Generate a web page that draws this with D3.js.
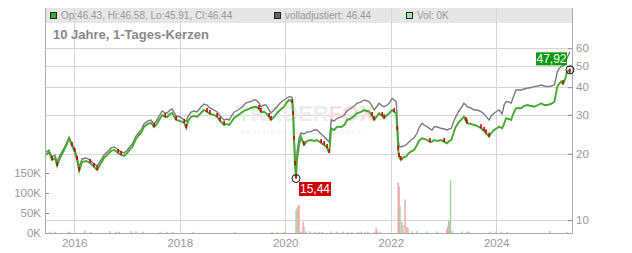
<!DOCTYPE html>
<html>
<head>
<meta charset="utf-8">
<script src="https://cdn.jsdelivr.net/npm/d3@7"></script>
<style>
  body { margin: 0; background: #fff; }
  svg { display: block; font-family: "Liberation Sans", Arial, sans-serif; }
</style>
</head>
<body>
<div id="chart"></div>
<script>
// Price data (close = green candles, adjusted = gray line)
const dates = [
  "2015-06-20","2015-07-10","2015-08-01","2015-08-21","2015-09-05","2015-09-25","2015-10-16","2015-11-06","2015-11-27","2015-12-17",
  "2016-01-04","2016-01-21","2016-02-05","2016-02-25","2016-03-23","2016-04-20","2016-05-17","2016-06-08","2016-07-05","2016-07-25","2016-08-16","2016-09-13","2016-10-04","2016-11-01","2016-11-21","2016-12-12",
  "2017-01-03","2017-01-23","2017-02-07","2017-03-04","2017-03-25","2017-04-08","2017-04-28","2017-05-26","2017-06-16","2017-07-07","2017-07-27","2017-08-11","2017-09-01","2017-09-22","2017-10-05","2017-10-26","2017-11-09","2017-12-07",
  "2018-01-04","2018-02-01","2018-02-15","2018-02-28","2018-03-20","2018-04-10","2018-04-30","2018-05-28","2018-06-18","2018-07-09","2018-07-29","2018-08-26","2018-09-17","2018-10-07","2018-11-04","2018-11-25","2018-12-09","2018-12-29",
  "2019-01-13","2019-02-10","2019-03-01","2019-03-21","2019-04-05","2019-04-25","2019-05-09","2019-05-29","2019-06-13","2019-07-04","2019-07-17","2019-08-07","2019-08-21","2019-09-12","2019-09-25","2019-10-16","2019-11-06","2019-11-27","2019-12-24",
  "2020-01-14","2020-01-28","2020-02-12","2020-02-19","2020-02-25","2020-03-02","2020-03-09","2020-03-16","2020-03-23","2020-04-06","2020-04-20","2020-05-10","2020-06-01","2020-06-28","2020-07-19","2020-08-09","2020-09-06","2020-09-27","2020-10-17","2020-11-01","2020-11-15","2020-12-05","2020-12-26",
  "2021-01-23","2021-02-13","2021-03-04","2021-04-01","2021-04-22","2021-05-12","2021-06-10","2021-06-30","2021-07-21","2021-08-04","2021-08-25","2021-09-08","2021-09-29","2021-10-12","2021-11-03","2021-11-16","2021-12-07","2021-12-21",
  "2022-01-11","2022-01-25","2022-02-08","2022-02-15","2022-02-22","2022-02-28","2022-03-12","2022-04-03","2022-04-17","2022-05-07","2022-05-21","2022-06-11","2022-07-02","2022-07-15","2022-08-06","2022-08-20","2022-09-10","2022-09-30","2022-10-14","2022-10-28","2022-11-18","2022-12-16",
  "2023-01-06","2023-01-27","2023-02-10","2023-02-24","2023-03-14","2023-03-28","2023-04-18","2023-05-02","2023-05-22","2023-06-06","2023-06-13","2023-07-10","2023-08-01","2023-08-21","2023-09-18","2023-10-09","2023-10-23","2023-11-13","2023-11-27","2023-12-17",
  "2024-01-08","2024-01-21","2024-02-11","2024-02-25","2024-03-09","2024-03-30","2024-04-13","2024-05-04","2024-05-17","2024-06-08","2024-06-21","2024-07-12","2024-08-02","2024-08-30","2024-09-20","2024-10-17","2024-11-08","2024-11-28","2024-12-19",
  "2025-01-16","2025-02-07","2025-02-20","2025-02-27","2025-03-11","2025-03-25","2025-04-08","2025-04-15","2025-04-29","2025-05-05","2025-05-19","2025-05-26"
];
const closes = [
  19.73,20.36,18.73,19.13,17.60,19.13,20.36,21.68,23.44,21.68,
  20.42,18.73,16.71,18.35,18.54,18.16,17.42,16.88,18.16,19.13,19.73,20.58,20.79,20.15,19.73,19.53,
  20.15,21.01,21.46,23.32,24.30,24.82,26.42,27.26,27.55,26.42,27.26,28.41,29.93,29.32,29.32,30.25,30.57,28.41,
  28.12,27.55,26.15,28.12,29.32,29.63,29.32,30.57,31.53,30.89,30.25,29.93,29.32,28.12,26.97,27.26,26.97,28.12,
  29.02,29.93,30.57,31.21,31.53,31.87,32.20,32.54,32.64,31.87,30.89,30.89,30.57,29.32,28.41,29.32,30.57,31.53,32.64,
  34.29,35.00,34.64,33.93,29.93,23.07,17.78,15.44,18.73,21.90,23.81,21.90,22.84,23.07,22.84,23.07,22.37,21.90,21.23,20.15,26.06,25.60,26.51,
  26.42,26.97,28.41,28.92,29.63,30.48,30.89,31.53,31.21,30.99,29.63,28.41,29.63,30.48,29.63,28.92,29.93,30.48,
  31.53,30.89,30.48,25.60,20.79,19.33,18.73,19.33,19.39,20.15,20.42,20.79,21.90,22.84,23.48,23.32,23.07,22.60,22.67,23.07,22.84,23.07,
  22.60,22.30,22.84,23.07,25.08,26.51,27.83,28.41,29.42,28.12,27.47,27.26,26.97,26.70,26.06,25.34,24.74,23.88,24.82,25.60,
  26.15,26.51,26.06,27.26,28.92,28.71,28.41,30.89,32.10,32.20,32.10,32.88,33.22,32.88,32.64,33.22,33.82,33.22,33.22,
  33.58,34.40,38.05,40.22,41.36,42.40,41.36,42.23,44.95,47.00,47.84,46.44
];
const adjusted = [
  20.36,20.79,19.33,19.73,18.35,19.73,20.79,22.13,23.68,22.13,
  21.01,19.33,17.42,18.93,19.13,18.73,17.97,17.60,18.73,19.73,20.36,21.23,21.46,20.79,20.36,20.15,
  20.79,21.68,22.13,24.05,25.08,25.60,27.26,28.12,28.41,27.26,28.41,29.63,31.21,30.57,30.57,31.53,31.87,29.63,
  29.32,28.41,28.00,29.63,30.89,31.21,30.89,32.54,33.58,33.22,32.20,31.53,30.89,29.63,28.41,28.71,28.41,29.93,
  30.89,31.53,32.20,33.22,33.93,34.29,34.40,35.00,35.00,33.93,32.64,33.22,33.22,31.53,30.57,31.53,32.64,33.93,35.00,
  35.75,36.24,36.12,35.75,32.20,25.60,19.73,17.24,20.36,23.56,24.82,24.56,25.08,25.16,25.60,25.60,24.56,23.88,23.07,22.60,28.41,28.12,28.92,
  29.32,29.93,31.21,32.10,32.88,33.82,34.29,35.00,34.64,34.40,32.88,31.53,32.88,33.82,32.88,32.64,33.22,33.82,
  35.64,35.00,34.40,28.41,23.07,21.51,21.51,21.68,21.90,22.60,23.07,23.56,24.74,26.15,27.47,26.97,26.51,25.87,25.60,26.51,26.42,26.06,
  25.87,25.60,25.87,26.06,28.12,29.42,31.21,32.10,33.82,33.22,32.64,32.20,31.53,31.53,30.99,30.25,29.42,28.41,29.63,30.48,
  31.21,31.53,30.25,33.22,34.40,34.29,33.82,36.87,38.84,38.84,38.84,39.26,39.55,39.88,40.22,40.50,40.92,40.50,40.22,
  40.50,40.92,44.49,47.00,48.35,49.55,49.89,50.40,52.55,54.20,56.50,57.90
];

// Volume (shares), mostly tiny, a few spikes
const volDates = [
  "2015-07-17","2015-08-21","2015-11-20","2015-12-04","2016-03-16","2016-04-27","2016-09-07","2016-10-17","2016-11-08",
  "2017-01-30","2017-03-04","2017-04-22","2017-08-18","2017-10-05","2017-11-16","2018-04-03","2019-01-20","2019-10-02","2019-11-06","2019-12-24",
  "2020-03-16","2020-03-23","2020-03-30","2020-04-06","2020-04-20","2020-05-04","2020-05-10","2020-05-24","2020-06-21","2020-07-25","2020-08-23","2020-09-13","2020-11-15","2020-12-26",
  "2021-02-06","2021-03-10","2021-04-08","2021-05-19","2021-06-10","2021-07-07","2021-07-27","2021-09-08","2021-09-22","2021-09-29","2021-10-19",
  "2022-02-22","2022-02-28","2022-03-06","2022-03-19","2022-03-26","2022-04-10","2022-04-23","2022-04-30","2022-05-28","2022-07-02","2022-09-10","2022-11-18",
  "2023-01-23","2023-01-30","2023-02-06","2023-02-12","2023-02-19","2023-03-01","2023-05-09","2023-06-13","2023-06-27","2023-11-20",
  "2024-01-01","2024-02-05","2024-03-16","2025-01-09","2025-05-05"
];
const volValues = [
  3000,3000,3000,3000,6000,3000,5000,3000,3000,
  5000,4000,3000,3000,3000,3000,3000,3000,3000,3000,3000,
  57000,62000,67000,70000,4000,28000,16000,4000,4000,3000,3000,3000,4000,4000,
  3000,3000,3000,3000,4000,3000,3000,3000,13000,4000,3000,
  126000,116000,67000,28000,20000,84000,16000,12000,4000,5000,4000,4000,
  7000,16000,32000,28000,132000,5000,4000,4000,3000,4000,
  4000,3000,3000,5000,3000
];
const volUp = [
  0,0,1,1,0,0,1,0,0,
  1,1,0,1,1,0,1,1,0,1,1,
  1,1,0,0,0,0,0,1,1,1,0,0,1,1,
  0,1,1,0,1,1,0,1,0,0,1,
  0,0,1,0,1,0,0,0,1,1,1,0,
  0,0,1,0,1,1,1,1,0,1,
  1,0,1,0,1
];

const yearTicks = ["2016-01-01","2018-01-01","2020-01-01","2022-01-01","2024-01-01"];
const priceTicks = [10, 20, 30, 40, 50, 60];
const volTicks = [0, 50000, 100000, 150000];
const lowMark = { date: "2020-03-16", value: 15.44, label: "15,44" };
const highMark = { date: "2025-05-26", value: 47.92, label: "47,92" };
const headerItems = [
  { text: "Op:46.43, Hi:46.58, Lo:45.91, Cl:46.44", fill: "#33aa33" },
  { text: "volladjustiert: 46.44", fill: "#666666" },
  { text: "Vol: 0K", fill: "#b3e0b3" }
];

const parse = d3.timeParse("%Y-%m-%d");
const W = 632, H = 253;
const L = 45, R = 572, T = 8, B = 233;

const svg = d3.select("#chart").append("svg").attr("width", W).attr("height", H);

// Scales
const x = d3.scaleTime().domain([parse("2015-06-13"), parse("2025-06-09")]).range([L, R]);
const y = d3.scaleLog().domain([8.75, 91.3]).range([B, T]);
const yVol = d3.scaleLinear().domain([0, 150000]).range([B, 173]);

// Header band
svg.append("rect").attr("x", L).attr("y", T).attr("width", R - L).attr("height", 15)
   .attr("fill", "#e6e6e6");

// Grid lines
svg.append("g").selectAll("line").data(yearTicks).enter().append("line")
   .attr("x1", d => Math.round(x(parse(d))) + 0.5).attr("x2", d => Math.round(x(parse(d))) + 0.5)
   .attr("y1", T).attr("y2", B)
   .attr("stroke", "#d6d6d6");
svg.append("g").selectAll("line").data(priceTicks).enter().append("line")
   .attr("x1", L).attr("x2", R)
   .attr("y1", d => Math.round(y(d)) + 0.5).attr("y2", d => Math.round(y(d)) + 0.5)
   .attr("stroke", "#d6d6d6");

// Watermark
const wm = svg.append("text").attr("x", 237).attr("y", 121)
   .style("font-size", "22px").style("font-weight", "bold");
wm.append("tspan").attr("fill", "#ececec").text("TRADER");
wm.append("tspan").attr("fill", "#f8dede").text("FOX");
svg.append("text").attr("x", 241).attr("y", 134).attr("fill", "#efefef")
   .style("font-size", "6px").style("letter-spacing", "1.5px").text("REALTIME STOCK SCREENER");

// Header legend
const hx = [50, 274, 406];
headerItems.forEach(function (item, i) {
    svg.append("rect").attr("x", hx[i] + 0.5).attr("y", 12.5).attr("width", 6).attr("height", 6)
       .attr("fill", item.fill).attr("stroke", "#222");
    svg.append("text").attr("x", hx[i] + 11).attr("y", 19.3).attr("fill", "#999")
       .style("font-size", "10px").text(item.text);
});

// Title
svg.append("text").attr("x", 53).attr("y", 38.5).attr("fill", "#888")
   .style("font-size", "13px").style("font-weight", "bold").text("10 Jahre, 1-Tages-Kerzen");

// Volume bars
svg.append("g").selectAll("rect").data(volDates).enter().append("rect")
   .attr("x", d => x(parse(d)) - 0.7)
   .attr("width", 1.4)
   .attr("y", (d, i) => yVol(volValues[i]))
   .attr("height", (d, i) => B - yVol(volValues[i]))
   .attr("fill", (d, i) => volUp[i] ? "#9fd89f" : "#f0a3a8");

// Price series
const pts = dates.map((d, i) => ({ date: parse(d), close: closes[i], adj: adjusted[i] }));

svg.append("path").datum(pts)
   .attr("fill", "none").attr("stroke", "#7a7a7a").attr("stroke-width", 1.4)
   .attr("d", d3.line().x(d => x(d.date)).y(d => y(d.adj)));

svg.append("path").datum(pts)
   .attr("fill", "none").attr("stroke", "#44aa2e").attr("stroke-width", 1.9)
   .attr("d", d3.line().x(d => x(d.date)).y(d => y(d.close)));

// red candles where the close fell
svg.append("g").selectAll("line").data(pts.slice(1)).enter()
   .filter((d, i) => d.close < pts[i].close * 0.98)
   .append("line")
   .attr("x1", d => x(d.date)).attr("x2", d => x(d.date))
   .attr("y1", (d, i) => y(d.close))
   .attr("y2", d => y(d.close) - 4)
   .attr("stroke", "#cc0000").attr("stroke-width", 1.6);

// Axes
const axisRight = d3.axisRight(y).tickValues(priceTicks).tickFormat(d3.format("d"))
   .tickSizeInner(-4).tickSizeOuter(0).tickPadding(4);
const gR = svg.append("g").attr("transform", "translate(" + R + ",0)").call(axisRight);

const axisLeft = d3.axisLeft(yVol).tickValues(volTicks).tickFormat(d => (d / 1000) + "K")
   .tickSizeInner(-4).tickSizeOuter(0).tickPadding(4);
const gL = svg.append("g").attr("transform", "translate(" + L + ",0)").call(axisLeft);
gL.select(".domain").remove();
svg.append("line").attr("x1", L + 0.5).attr("x2", L + 0.5).attr("y1", T).attr("y2", B)
   .attr("stroke", "#aaa");
gR.select(".domain").remove();
svg.append("line").attr("x1", R + 0.5).attr("x2", R + 0.5).attr("y1", T).attr("y2", B)
   .attr("stroke", "#aaa");

const axisBottom = d3.axisBottom(x).tickValues(yearTicks.map(parse))
   .tickFormat(d3.timeFormat("%Y")).tickSize(0).tickPadding(6);
const gB = svg.append("g").attr("transform", "translate(0," + B + ")").call(axisBottom);
gB.select(".domain").remove();
svg.append("line").attr("x1", L).attr("x2", R + 1).attr("y1", B + 0.5).attr("y2", B + 0.5)
   .attr("stroke", "#aaa");

[gR, gL, gB].forEach(function (g) {
    g.selectAll("text").attr("fill", "#999").style("font-size", "11.5px")
     .style("font-family", "'Liberation Sans', Arial, sans-serif");
    g.selectAll(".tick line").attr("stroke", "#888");
});
gB.selectAll(".tick line").remove();

// Low / high markers
function marker(m) {
    const cx = x(parse(m.date)), cy = y(m.value);
    svg.append("circle").attr("cx", cx).attr("cy", cy).attr("r", 4)
       .attr("fill", "none").attr("stroke", "#111").attr("stroke-width", 1);
    return { cx: cx, cy: cy };
}
const lo = marker(lowMark);
svg.append("rect").attr("x", lo.cx + 3).attr("y", lo.cy + 3.5).attr("width", 32).attr("height", 14)
   .attr("fill", "#cc0000");
svg.append("text").attr("x", lo.cx + 19).attr("y", lo.cy + 14.5).attr("text-anchor", "middle")
   .attr("fill", "#fff").style("font-size", "12px").text(lowMark.label);

const hi = marker(highMark);
svg.append("rect").attr("x", hi.cx - 34).attr("y", hi.cy - 17.5).attr("width", 31).attr("height", 13)
   .attr("fill", "#0a9a0a");
svg.append("text").attr("x", hi.cx - 18.5).attr("y", hi.cy - 6.8).attr("text-anchor", "middle")
   .attr("fill", "#fff").style("font-size", "12px").text(highMark.label);
</script>
</body>
</html>
